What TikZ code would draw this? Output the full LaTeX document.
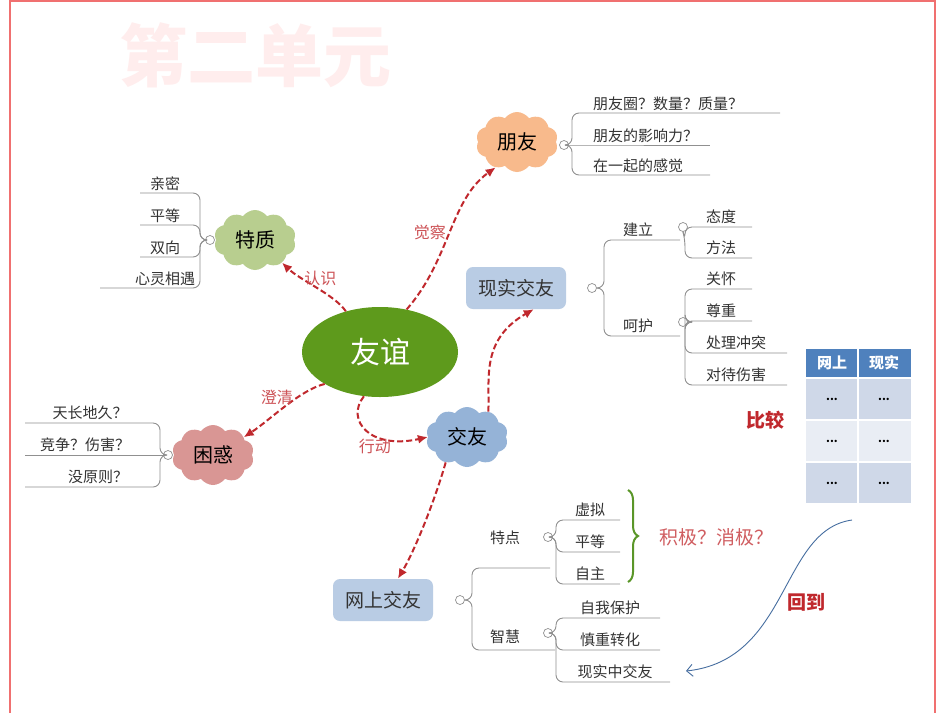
\documentclass[tikz,border=0pt]{standalone}
\usepackage{fontspec}
\setmainfont{Noto Sans CJK SC}
\usetikzlibrary{shapes.symbols,shapes.geometric,arrows.meta,decorations.pathreplacing}
\definecolor{frame}{HTML}{F07070}
\definecolor{dred}{HTML}{C0282D}
\definecolor{gray1}{HTML}{909090}
\definecolor{cg}{HTML}{5E9A1C}
\begin{document}
\begin{tikzpicture}[x=1pt,y=-1pt,
  cl/.style={cloud,cloud puffs=10,cloud puff arc=110,aspect=1.4,inner sep=0pt,minimum width=82pt,minimum height=60pt,font=\fontsize{20}{20}\selectfont},
  rbox/.style={rounded corners=7pt,minimum width=100pt,minimum height=42pt,fill=#1,font=\fontsize{19}{19}\selectfont,text=black!80},
  lf/.style={font=\fontsize{15}{15}\selectfont,text=black!80,inner sep=1pt},
  br/.style={draw=gray1,line width=0.9pt,rounded corners=7pt},
  dot/.style={circle,draw=gray1,fill=white,minimum size=9pt,inner sep=0pt,line width=0.7pt},
  da/.style={draw=dred,dashed,dash pattern=on 6pt off 3pt,line width=2pt,-{Latex[length=10pt,width=9pt]}},
  dl/.style={font=\fontsize{16}{16}\selectfont,text=dred!80}]
\useasboundingbox (0,0) rectangle (950,713);
\fill[white] (0,0) rectangle (950,713);
\draw[frame,line width=1.2pt] (10,713) -- (10,1) -- (935,1) -- (935,713);
\node[font=\bfseries\fontsize{68}{68}\selectfont,text=red!7] (title) at (255,55) {第二单元};
% central
\node[ellipse,fill=cg,minimum width=156pt,minimum height=90pt,text=white,font=\fontsize{30}{30}\selectfont] (yy) at (380,352) {友谊};
% 特质
\node[cl,fill={rgb,255:red,184;green,206;blue,143}] (tz) at (255,240) {特质};
\node[dot] (tzd) at (210,240) {};
\foreach \t/\y/\xs in {亲密/193/140,平等/225/140,双向/257/140,心灵相遇/288/100}{
  \draw[br] (tzd.west) -- (200,240) |- (\xs,\y);
  \node[lf,anchor=south] at (165,\y-1) {\t};}
% 朋友
\node[cl,fill={rgb,255:red,248;green,186;blue,140}] (py) at (517,142) {朋友};
\node[dot] (pyd) at (564,145) {};
\draw[br] (pyd.east) -- (572,145) |- (780,113);
\draw[br] (pyd.east) -- (572,145) -- (710,145);
\draw[br] (pyd.east) -- (572,145) |- (710,175);
\node[lf,anchor=south west] at (592,112) {朋友圈？数量？质量？};
\node[lf,anchor=south west] at (592,144) {朋友的影响力？};
\node[lf,anchor=south west] at (592,174) {在一起的感觉};
% 现实交友
\definecolor{bb}{HTML}{B9CCE4}
\node[rbox=bb] (xs) at (516,288) {现实交友};
\node[dot] (xsd) at (592,288) {};
\draw[br] (xsd.east) -- (604,288) |- (680,240);
\draw[br] (xsd.east) -- (604,288) |- (680,336);
\node[lf,anchor=south] at (638,238) {建立};
\node[lf,anchor=south] at (638,334) {呵护};
\node[dot] (jl) at (683,227) {};
\node[dot] (hh) at (683,322) {};
\draw[br] (jl.south) -- (685,240) |- (752,227);
\draw[br] (jl.south) -- (685,240) |- (752,258);
\node[lf,anchor=south west] at (705,225) {态度};
\node[lf,anchor=south west] at (705,256) {方法};
\draw[br] (hh.east) -- (685,322) |- (752,289);
\draw[br] (hh.east) -- (685,322) |- (752,321);
\draw[br] (hh.east) -- (685,322) |- (787,353);
\draw[br] (hh.east) -- (685,322) |- (787,385);
\node[lf,anchor=south west] at (705,287) {关怀};
\node[lf,anchor=south west] at (705,319) {尊重};
\node[lf,anchor=south west] at (705,351) {处理冲突};
\node[lf,anchor=south west] at (705,383) {对待伤害};
% table
\definecolor{th}{HTML}{4F81BD}\definecolor{r1}{HTML}{CFD8E8}\definecolor{r2}{HTML}{E9EDF4}
\fill[th] (806,349) rectangle (911,378);
\fill[r1] (806,378) rectangle (911,420);
\fill[r2] (806,420) rectangle (911,462);
\fill[r1] (806,462) rectangle (911,503);
\draw[white,line width=1.2pt] (858,349) -- (858,503) (806,378) -- (911,378) (806,420) -- (911,420) (806,462) -- (911,462);
\node[text=white,font=\bfseries\fontsize{15}{15}\selectfont] (t1) at (832,363) {网上};
\node[text=white,font=\bfseries\fontsize{15}{15}\selectfont] (t2) at (884,363) {现实};
\foreach \y in {399,441,483}{\node[font=\bfseries\fontsize{11}{11}\selectfont] at (832,\y) {...};\node[font=\bfseries\fontsize{11}{11}\selectfont] at (884,\y) {...};}
\node[text=dred,font=\bfseries\fontsize{19}{19}\selectfont] (bj) at (765,420) {比较};
% 交友
\node[cl,fill={rgb,255:red,149;green,179;blue,215}] (jy) at (467,437) {交友};
% 困惑
\node[cl,fill={rgb,255:red,217;green,150;blue,148}] (kh) at (213,455) {困惑};
\node[dot] (khd) at (168,455) {};
\draw[br] (khd.west) -- (160,455) |- (25,423);
\draw[br] (khd.west) -- (25,455);
\draw[br] (khd.west) -- (160,455) |- (25,487);
\node[lf,anchor=south] at (90,421) {天长地久？};
\node[lf,anchor=south] at (85,453) {竞争？伤害？};
\node[lf,anchor=south] at (98,485) {没原则？};
% 网上交友
\node[rbox=bb] (ws) at (383,600) {网上交友};
\node[dot] (wsd) at (460,600) {};
\draw[br] (wsd.east) -- (472,600) |- (550,568);
\draw[br] (wsd.east) -- (472,600) |- (555,650);
\node[lf,anchor=south] at (505,546) {特点};
\node[lf,anchor=south] at (505,645) {智慧};
\node[dot] (td) at (548,537) {};
\node[dot] (zd) at (548,633) {};
\draw[br] (td.east) -- (556,537) |- (620,520);
\draw[br] (td.east) -- (556,537) |- (620,552);
\draw[br] (td.east) -- (556,537) |- (620,584);
\node[lf,anchor=south] at (590,518) {虚拟};
\node[lf,anchor=south] at (590,550) {平等};
\node[lf,anchor=south] at (590,582) {自主};
\draw[br] (zd.east) -- (556,633) |- (660,618);
\draw[br] (zd.east) -- (556,633) |- (660,650);
\draw[br] (zd.east) -- (556,633) |- (670,682);
\node[lf,anchor=south] at (610,616) {自我保护};
\node[lf,anchor=south] at (610,648) {慎重转化};
\node[lf,anchor=south] at (615,680) {现实中交友};
\draw[decorate,decoration={brace,amplitude=10pt},draw={rgb,255:red,90;green,150;blue,40},line width=2pt] (628,490) -- (628,582);
\node[text=dred!75,font=\fontsize{19}{19}\selectfont] (jj) at (716,537) {积极？消极？};
\node[text=dred,font=\bfseries\fontsize{19}{19}\selectfont] (hd) at (806,602) {回到};
\coordinate (cs) at (852,520);
\coordinate (ce) at (686,671);
\draw[draw={rgb,255:red,70;green,110;blue,160},line width=0.9pt,-{Straight Barb[length=6pt]}] (cs) .. controls (780,530) and (790,660) .. (ce);
% dashed arrows
\draw[da] (yy.130) .. controls (335,295) and (300,280) .. (tz.-40) node[dl,pos=0.45,above] {认识};
\draw[da] (yy.58) .. controls (450,260) and (450,200) .. (py.-130) node[dl,pos=0.5,left] {觉察};
\draw[da] (yy.-110) .. controls (345,420) and (370,450) .. (jy.west) node[dl,pos=0.6,below] {行动};
\draw[da] (jy.50) .. controls (490,380) and (480,340) .. (xs.-50);
\draw[da] (yy.-150) .. controls (300,390) and (270,420) .. (kh.30) node[dl,pos=0.35,left] {澄清};
\draw[da] (jy.-130) .. controls (435,500) and (415,550) .. (ws.55);
\end{tikzpicture}
\end{document}
